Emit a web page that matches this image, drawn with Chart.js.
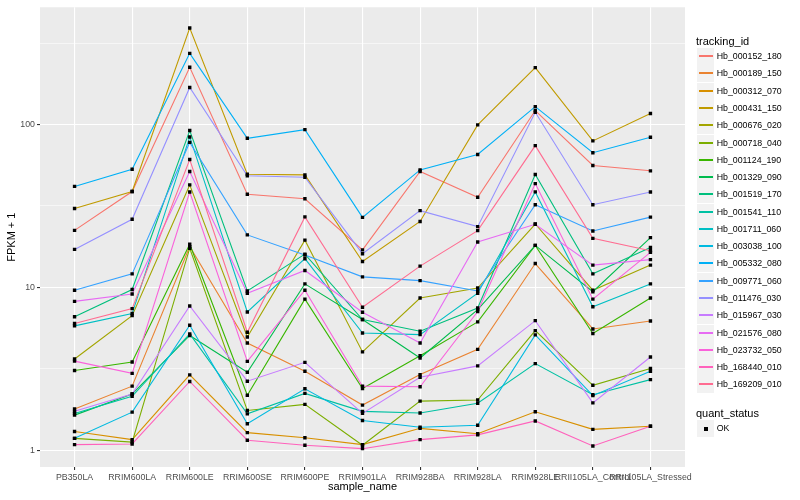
<!DOCTYPE html>
<html>
<head>
<meta charset="utf-8">
<script src="https://cdn.jsdelivr.net/npm/chart.js@4"></script>
<style>
  body { margin: 0; background: #fff; font-family: "Liberation Sans", Arial, sans-serif; }
  #wrap { position: relative; width: 800px; height: 500px; }
  #legend { position: absolute; left: 696px; top: 0; width: 104px; height: 500px; }
  .ltitle { position: absolute; left: 0; font-size: 11px; line-height: 14px; color: #000; white-space: nowrap; }
  .key { position: absolute; left: 1px; width: 17px; height: 17px; background: #F2F2F2; border-bottom: 1px solid #fff; }
  .kline { position: absolute; left: 2px; width: 14px; top: 7px; height: 2px; }
  .kdot { position: absolute; left: 7px; top: 7px; width: 4px; height: 4px; background: #000; }
  .klabel { position: absolute; left: 20.7px; font-size: 8.8px; line-height: 17px; color: #000; white-space: nowrap; }
</style>
</head>
<body>
<div id="wrap">
  <canvas id="chart" width="800" height="500"></canvas>
  <div id="legend"></div>
</div>
<script>
// categories on the x axis
const categories = ['PB350LA', 'RRIM600LA', 'RRIM600LE', 'RRIM600SE', 'RRIM600PE', 'RRIM901LA',
  'RRIM928BA', 'RRIM928LA', 'RRIM928LE', 'RRII105LA_Control', 'RRII105LA_Stressed'];

// FPKM + 1 per tracking_id
const hb_000152_180 = [22.4, 38.8, 225, 37.3, 35.0, 17.0, 51.5, 35.8, 122, 56.1, 52.0];
const hb_000189_150 = [1.79, 2.47, 17.8, 4.55, 3.05, 1.89, 2.91, 4.16, 14.0, 5.55, 6.21];
const hb_000312_070 = [1.30, 1.16, 2.90, 1.28, 1.19, 1.08, 1.36, 1.26, 1.72, 1.34, 1.40];
const hb_000431_150 = [30.5, 38.8, 392, 49.5, 49.1, 14.4, 25.4, 99.6, 224, 79.4, 117];
const hb_000676_020 = [3.63, 6.7, 42.6, 4.95, 19.5, 4.01, 8.6, 9.9, 24.5, 9.6, 13.7];
const hb_000718_040 = [1.18, 1.12, 17.4, 1.75, 1.91, 1.07, 2.0, 2.03, 5.42, 2.5, 3.17];
const hb_001124_190 = [3.08, 3.48, 18.4, 2.17, 8.46, 2.39, 3.8, 6.13, 18.1, 5.2, 8.6];
const hb_001329_090 = [1.64, 2.21, 5.06, 3.01, 10.5, 6.34, 3.68, 7.3, 18.1, 9.4, 20.2];
const hb_001519_170 = [6.6, 9.7, 92, 9.5, 16.0, 6.34, 5.37, 7.46, 49.4, 12.1, 17.6];
const hb_001541_110 = [1.68, 2.14, 5.17, 1.67, 2.23, 1.73, 1.69, 1.94, 3.40, 2.19, 2.71];
const hb_001711_060 = [5.8, 6.9, 84, 7.06, 15.0, 5.24, 5.12, 9.2, 38.6, 7.6, 10.5];
const hb_003038_100 = [1.18, 1.71, 5.85, 1.45, 2.38, 1.52, 1.38, 1.42, 5.10, 2.16, 3.05];
const hb_005332_080 = [41.7, 53.2, 274, 82.4, 93.2, 26.9, 52.7, 65.5, 129, 67.2, 83.7];
const hb_009771_060 = [9.6, 12.1, 77.8, 21.0, 15.8, 11.6, 11.0, 9.5, 32.2, 22.2, 27.0];
const hb_011476_030 = [17.1, 26.2, 169, 48.5, 47.5, 16.1, 29.6, 23.6, 119, 32.2, 38.5];
const hb_015967_030 = [1.73, 2.21, 7.68, 2.65, 3.46, 1.68, 2.80, 3.29, 6.24, 1.95, 3.73];
const hb_021576_080 = [8.2, 9.1, 51.5, 9.2, 12.7, 7.03, 4.55, 19.0, 24.4, 13.7, 14.8];
const hb_023732_050 = [3.52, 2.96, 38.5, 3.51, 9.6, 2.47, 2.45, 7.1, 43.4, 8.46, 16.4];
const hb_168440_010 = [1.08, 1.09, 2.64, 1.15, 1.07, 1.02, 1.16, 1.24, 1.51, 1.06, 1.40];
const hb_169209_010 = [6.0, 7.4, 61, 5.3, 27.1, 7.54, 13.5, 22.3, 74.3, 20.0, 16.8];

const seriesNames = ['Hb_000152_180', 'Hb_000189_150', 'Hb_000312_070', 'Hb_000431_150', 'Hb_000676_020',
  'Hb_000718_040', 'Hb_001124_190', 'Hb_001329_090', 'Hb_001519_170', 'Hb_001541_110', 'Hb_001711_060',
  'Hb_003038_100', 'Hb_005332_080', 'Hb_009771_060', 'Hb_011476_030', 'Hb_015967_030', 'Hb_021576_080',
  'Hb_023732_050', 'Hb_168440_010', 'Hb_169209_010'];
const seriesValues = [hb_000152_180, hb_000189_150, hb_000312_070, hb_000431_150, hb_000676_020,
  hb_000718_040, hb_001124_190, hb_001329_090, hb_001519_170, hb_001541_110, hb_001711_060,
  hb_003038_100, hb_005332_080, hb_009771_060, hb_011476_030, hb_015967_030, hb_021576_080,
  hb_023732_050, hb_168440_010, hb_169209_010];
// ggplot default hue palette for 20 groups
const seriesColors = ['#F8766D', '#EA8331', '#D89000', '#C09B00', '#A3A500', '#7CAE00', '#39B600',
  '#00BB4E', '#00BF7D', '#00C1A3', '#00BFC4', '#00BAE0', '#00B0F6', '#35A2FF', '#9590FF', '#C77CFF',
  '#E76BF3', '#FA62DB', '#FF62BC', '#FF6C91'];

const yMajorTicks = [1, 10, 100];
const yMinorTicks = [3.1623, 31.623, 316.23];
const statusLabels = ['OK'];

// grey panel behind the plot
const panelBg = {
  id: 'panelBg',
  beforeDraw(chart) {
    const { ctx, chartArea: a } = chart;
    ctx.save();
    ctx.fillStyle = '#EBEBEB';
    ctx.fillRect(a.left, a.top, a.right - a.left, a.bottom - a.top);
    ctx.restore();
  }
};

function isMajor(v) {
  return yMajorTicks.some(t => Math.abs(t - v) < 1e-6);
}

function buildChart() {
  const lineSets = seriesValues.map((vals, i) => ({
    type: 'line',
    label: seriesNames[i],
    data: vals.map((v, j) => ({ x: j, y: v })),
    borderColor: seriesColors[i],
    borderWidth: 1.1,
    pointRadius: 0,
    tension: 0,
    fill: false,
    order: 100 - i
  }));

  // all points in one layer, drawn above the lines
  const pointSet = {
    type: 'scatter',
    label: statusLabels[0],
    data: seriesValues.flatMap(vals => vals.map((v, j) => ({ x: j, y: v }))),
    pointStyle: 'rect',
    pointRadius: 2.4,
    backgroundColor: '#000',
    borderWidth: 0,
    showLine: false,
    order: 0
  };

  const ctx = document.getElementById('chart').getContext('2d');
  new Chart(ctx, {
    type: 'line',
    data: { datasets: [pointSet, ...lineSets] },
    options: {
      responsive: false,
      animation: false,
      layout: { padding: { left: 5, top: 5, right: 115, bottom: 6 } },
      plugins: { legend: { display: false }, tooltip: { enabled: false } },
      scales: {
        x: {
          type: 'linear',
          min: -0.6,
          max: 10.6,
          afterBuildTicks: s => { s.ticks = categories.map((c, i) => ({ value: i })); },
          afterFit: s => { s.height = 27; },
          ticks: {
            callback: v => categories[v],
            autoSkip: false, maxRotation: 0, minRotation: 0,
            color: '#4D4D4D', font: { size: 8.8, family: '"Liberation Sans", Arial' }, padding: 2
          },
          grid: { color: '#FFFFFF', lineWidth: 1.1, tickLength: 3, tickColor: '#333333' },
          border: { display: false },
          title: { display: true, text: 'sample_name', color: '#000', font: { size: 11, family: '"Liberation Sans", Arial' }, padding: 0 }
        },
        y: {
          type: 'logarithmic',
          min: 0.787,
          max: 526,
          afterBuildTicks: s => {
            s.ticks = [...yMajorTicks, ...yMinorTicks].sort((a, b) => a - b).map(v => ({ value: v }));
          },
          afterFit: s => { s.width = 35; },
          ticks: {
            callback: v => isMajor(v) ? String(v) : '',
            color: '#4D4D4D', font: { size: 8.8, family: '"Liberation Sans", Arial' }, padding: 2
          },
          grid: {
            color: '#FFFFFF',
            lineWidth: c => isMajor(c.tick.value) ? 1.1 : 0.55,
            tickLength: 3,
            tickColor: c => isMajor(c.tick.value) ? '#333333' : 'rgba(0,0,0,0)'
          },
          border: { display: false },
          title: { display: true, text: 'FPKM + 1', color: '#000', font: { size: 11, family: '"Liberation Sans", Arial' }, padding: 0 }
        }
      }
    },
    plugins: [panelBg]
  });
}

function buildLegend() {
  const box = document.getElementById('legend');
  let html = '<div class="ltitle" style="top:34px">tracking_id</div>';
  seriesNames.forEach((name, i) => {
    const top = Math.round(48.1 + i * 17.28);
    html += `<div class="key" style="top:${top}px"><div class="kline" style="background:${seriesColors[i]}"></div></div>`;
    html += `<div class="klabel" style="top:${top}px">${name}</div>`;
  });
  html += '<div class="ltitle" style="top:406px">quant_status</div>';
  statusLabels.forEach((s, i) => {
    const top = Math.round(420.1 + i * 17.28);
    html += `<div class="key" style="top:${top}px"><div class="kdot"></div></div>`;
    html += `<div class="klabel" style="top:${top}px">${s}</div>`;
  });
  box.innerHTML = html;
}

document.addEventListener('DOMContentLoaded', () => {
  buildChart();
  buildLegend();
});
</script>
</body>
</html>
